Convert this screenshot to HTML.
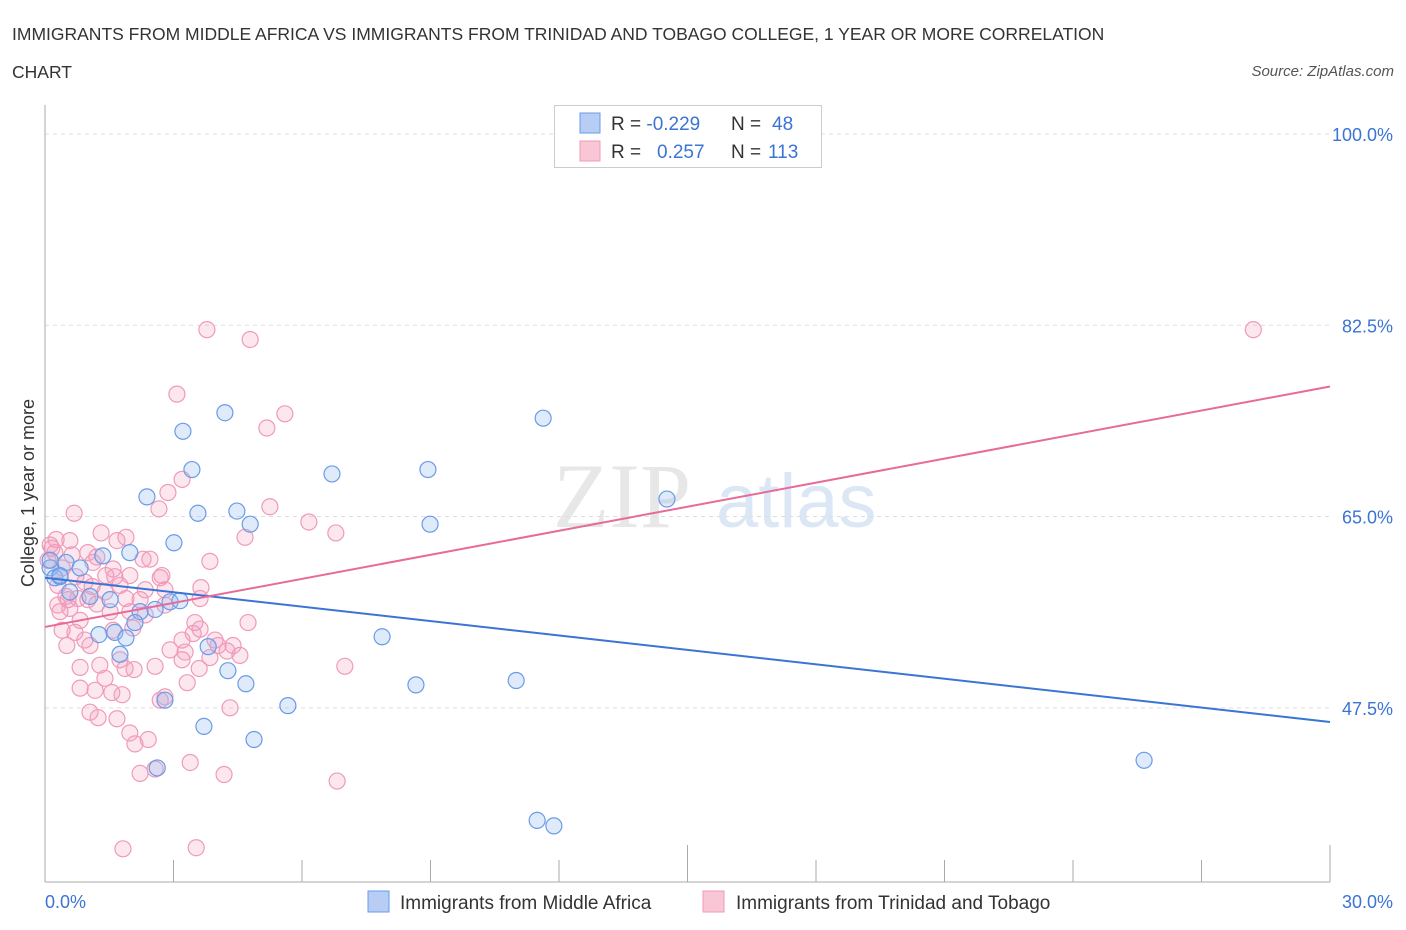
<!DOCTYPE html>
<html><head><meta charset="utf-8"><style>
body{margin:0;background:#fff;font-family:"Liberation Sans",sans-serif;}
svg{display:block}
</style></head><body>
<svg id="chart" width="1406" height="930" xmlns="http://www.w3.org/2000/svg">
<text x="12" y="40" font-size="17.5" fill="#333">IMMIGRANTS FROM MIDDLE AFRICA VS IMMIGRANTS FROM TRINIDAD AND TOBAGO COLLEGE, 1 YEAR OR MORE CORRELATION</text>
<text x="12" y="78" font-size="17.5" fill="#333">CHART</text>
<text x="1394" y="76" font-size="15" font-style="italic" fill="#555" text-anchor="end">Source: ZipAtlas.com</text>
<g opacity="0.35">
<text x="553" y="527" font-family="Liberation Serif,serif" font-size="92" fill="#bbb">ZIP</text>
<text x="716" y="527" font-size="76" fill="#9dbbe6">atlas</text>
</g>
<g id="grid"></g>
<g id="axes"></g>
<g id="points"></g>
<g id="lines"></g>
<text transform="translate(34,493) rotate(-90)" font-size="18" fill="#333" text-anchor="middle">College, 1 year or more</text>
<g>
<rect x="554.5" y="105.5" width="267" height="62" fill="#fff" stroke="#ccc"/>
<rect x="580" y="113" width="20" height="20" fill="#b7cdf4" stroke="#6a9be8"/>
<text x="611" y="130" font-size="19" fill="#333">R = <tspan fill="#3a74d4">-0.229</tspan><tspan x="731">N = </tspan><tspan fill="#3a74d4" x="772">48</tspan></text>
<rect x="580" y="141" width="20" height="20" fill="#f9c6d6" stroke="#f09ab8"/>
<text x="611" y="158" font-size="19" fill="#333">R = <tspan fill="#3a74d4" x="657">0.257</tspan><tspan x="731">N = </tspan><tspan fill="#3a74d4" x="768">113</tspan></text>
</g>
<g>
<rect x="368" y="891" width="21" height="21" fill="#b7cdf4" stroke="#6a9be8"/>
<text x="400" y="909" font-size="19" fill="#333">Immigrants from Middle Africa</text>
<rect x="703" y="891" width="21" height="21" fill="#f9c6d6" stroke="#f09ab8"/>
<text x="736" y="909" font-size="19" fill="#333">Immigrants from Trinidad and Tobago</text>
</g>
</svg>
<script>
const yTicks=[47.5,65,82.5,100];
const blueX=[4.20,3.22,11.63,3.43,6.70,8.94,2.38,3.57,4.48,4.79,8.99,14.52,3.01,1.98,1.35,0.49,0.82,0.12,0.23,0.35,1.52,2.22,2.57,2.92,3.15,2.10,1.26,1.63,1.89,7.87,3.81,1.75,4.27,4.69,8.66,11.0,2.80,5.67,3.71,4.88,2.62,25.66,11.49,11.88,1.05,0.58,0.35,0.12];
const blueY=[74.5,72.8,74.0,69.3,68.9,69.3,66.8,65.3,65.5,64.3,64.3,66.6,62.6,61.7,61.4,60.8,60.3,60.3,59.4,59.5,57.4,56.3,56.5,57.2,57.3,55.3,54.2,54.4,53.9,54.0,53.1,52.4,50.9,49.7,49.6,50.0,48.2,47.7,45.8,44.6,42.0,42.7,37.2,36.7,57.7,58.1,59.6,61.0];
const pinkX=[3.78,4.79,28.21,3.08,5.60,5.18,3.20,2.87,0.68,2.66,6.16,6.79,5.25,4.67,1.31,1.89,1.68,0.58,0.12,0.23,1.00,1.21,2.29,3.85,1.59,1.42,1.98,2.69,2.73,0.30,0.93,3.64,0.49,0.77,1.00,1.75,2.34,0.30,0.58,1.21,1.89,1.52,0.82,0.35,2.80,3.46,3.62,4.74,0.70,1.59,2.05,4.39,4.04,0.51,1.05,1.75,1.28,0.82,3.27,3.20,3.60,3.85,4.25,2.57,2.08,3.32,0.82,1.17,1.80,2.80,1.56,1.24,1.68,4.32,1.98,2.41,2.10,3.39,4.18,2.22,2.57,6.82,7.00,1.82,3.53,0.07,0.16,0.40,0.63,1.12,1.40,1.63,2.45,2.92,1.40,3.50,0.93,0.40,2.22,1.10,0.72,0.26,1.05,3.20,2.69,1.87,3.62,3.97,2.34,0.54,4.55,1.98,2.80];
const pinkY=[82.1,81.2,82.1,76.2,74.4,73.1,68.4,67.2,65.3,65.7,64.5,63.5,65.9,63.1,63.5,63.1,62.8,62.8,62.4,61.7,61.7,61.3,61.1,60.9,60.2,59.6,59.6,59.4,59.6,58.7,59.0,58.5,57.7,57.5,57.4,58.7,58.3,56.9,56.6,57.0,57.5,56.3,55.5,56.3,56.9,54.3,54.7,55.3,54.4,54.6,54.8,53.2,53.2,53.2,53.2,51.9,51.4,51.2,52.6,51.9,51.1,52.1,52.7,51.3,51.0,49.8,49.3,49.1,48.7,48.5,48.9,46.6,46.5,47.5,45.2,44.6,44.2,42.5,41.4,41.5,41.9,40.8,51.3,34.6,34.7,61.0,62.1,60.3,61.5,60.8,58.1,59.5,61.1,52.8,50.2,55.3,53.7,54.6,57.4,58.6,59.5,62.9,47.1,53.7,48.2,51.1,57.5,53.7,56.0,57.4,52.3,56.3,58.3];
const blueTrend=[59.4,46.2];
const pinkTrend=[54.9,76.9];
const NS='http://www.w3.org/2000/svg';
const xS=v=>45+v/30*1285;
const yS=v=>134+(100-v)*10.93;
function mk(t,a,p){const e=document.createElementNS(NS,t);for(const k in a)e.setAttribute(k,a[k]);p.appendChild(e);return e;}
const grid=document.getElementById('grid'),axes=document.getElementById('axes'),pts=document.getElementById('points'),lines=document.getElementById('lines');
yTicks.forEach(v=>{
const g=mk('line',{x1:45,x2:1330,y1:yS(v),y2:yS(v),stroke:'#ddd','stroke-dasharray':'4,4'},grid);


const t=mk('text',{x:1393,y:yS(v)+7,'font-size':18,fill:'#3a74d4','text-anchor':'end'},axes);
t.textContent=v.toFixed(1)+'%';


});
const ax=mk('line',{x1:45,x2:45,y1:105,y2:882,stroke:'#aaa'},axes);


const bx=mk('line',{x1:45,x2:1330,y1:882,y2:882,stroke:'#aaa'},axes);


for(let i=1;i<=10;i++){
const x=xS(i*3);
const tk=mk('line',{x1:x,x2:x,y1:(i==5||i==10)?845:860,y2:882,stroke:'#aaa'},axes);


}
const xl=mk('text',{x:45,y:908,'font-size':18,fill:'#3a74d4'},axes);xl.textContent='0.0%';


const xr=mk('text',{x:1393,y:908,'font-size':18,fill:'#3a74d4','text-anchor':'end'},axes);xr.textContent='30.0%';


pinkX.forEach((x,i)=>{
const c=mk('circle',{cx:xS(x),cy:yS(pinkY[i]),r:8,fill:'rgba(244,160,190,0.25)',stroke:'#f09ab8','stroke-width':1.2},pts);


});
blueX.forEach((x,i)=>{
const c=mk('circle',{cx:xS(x),cy:yS(blueY[i]),r:8,fill:'rgba(150,185,240,0.3)',stroke:'#6a9be8','stroke-width':1.2},pts);


});
const bl=mk('line',{x1:xS(0),x2:xS(30),y1:yS(blueTrend[0]),y2:yS(blueTrend[1]),stroke:'#3a74d4','stroke-width':2},lines);


const pl=mk('line',{x1:xS(0),x2:xS(30),y1:yS(pinkTrend[0]),y2:yS(pinkTrend[1]),stroke:'#e86a98','stroke-width':2},lines);


</script>
</body></html>
